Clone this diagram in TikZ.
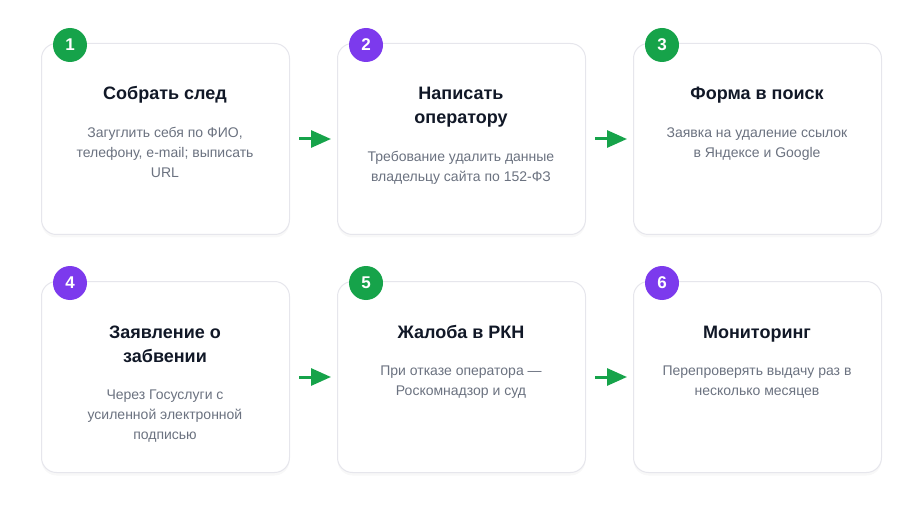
\documentclass[tikz,border=0pt]{standalone}
\usepackage{fontspec}
\setmainfont{Liberation Sans}
\usetikzlibrary{arrows.meta,shadows,positioning}
\definecolor{stepgreen}{HTML}{16A34A}
\definecolor{steppurple}{HTML}{7C3AED}
\definecolor{titlecol}{HTML}{111827}
\definecolor{desccol}{HTML}{6B7280}
\definecolor{cardborder}{HTML}{E6E6EC}
\tikzset{
  card/.style={draw=cardborder, line width=1pt, fill=white, rounded corners=15pt,
    minimum width=248pt, minimum height=191pt, inner sep=0pt, anchor=north west,
    drop shadow={opacity=0.06, shadow xshift=0pt, shadow yshift=-3pt}},
  badge/.style={circle, fill=#1, minimum size=34pt, inner sep=0pt, text=white,
    font=\fontsize{17}{20}\selectfont\bfseries},
  titletext/.style={anchor=north, align=center, inner sep=0pt, text=titlecol,
    font=\fontsize{18}{24}\selectfont\bfseries},
  desctext/.style={anchor=north, align=center, inner sep=0pt, text=desccol,
    font=\fontsize{14}{20}\selectfont},
  flow/.style={-{Triangle[length=20pt,width=17pt]}, line width=3pt, draw=stepgreen,
    shorten <=9pt, shorten >=6pt}
}
\begin{document}
\begin{tikzpicture}[x=1pt,y=-1pt]
\useasboundingbox (0,0) rectangle (922,516);
% cards
\node[card] (c1) at (41,43) {};
\node[card] (c2) at (337,43) {};
\node[card] (c3) at (633,43) {};
\node[card] (c4) at (41,281) {};
\node[card] (c5) at (337,281) {};
\node[card] (c6) at (633,281) {};
% badges
\node[badge=stepgreen]  (b1) at (70,45) {1};
\node[badge=steppurple] (b2) at (366,45) {2};
\node[badge=stepgreen]  (b3) at (662,45) {3};
\node[badge=steppurple] (b4) at (70,283) {4};
\node[badge=stepgreen]  (b5) at (366,283) {5};
\node[badge=steppurple] (b6) at (662,283) {6};
% titles
\node[titletext] (t1) at (165,83) {\strut Собрать след\strut};
\node[titletext] (t2) at (461,83) {\strut Написать\\оператору\strut};
\node[titletext] (t3) at (757,83) {\strut Форма в поиск\strut};
\node[titletext] (t4) at (165,321) {\strut Заявление о\\забвении\strut};
\node[titletext] (t5) at (461,321) {\strut Жалоба в РКН\strut};
\node[titletext] (t6) at (757,321) {\strut Мониторинг\strut};
% descriptions
\node[desctext, below=16pt of t1] (d1) {\strut Загуглить себя по ФИО,\\телефону, e-mail; выписать\\URL\strut};
\node[desctext, below=16pt of t2] (d2) {\strut Требование удалить данные\\владельцу сайта по 152-ФЗ\strut};
\node[desctext, below=16pt of t3] (d3) {\strut Заявка на удаление ссылок\\в Яндексе и Google\strut};
\node[desctext, below=16pt of t4] (d4) {\strut Через Госуслуги с\\усиленной электронной\\подписью\strut};
\node[desctext, below=16pt of t5] (d5) {\strut При отказе оператора —\\Роскомнадзор и суд\strut};
\node[desctext, below=16pt of t6] (d6) {\strut Перепроверять выдачу раз в\\несколько месяцев\strut};
% arrows
\draw[flow] (c1.east) -- (c2.west);
\draw[flow] (c2.east) -- (c3.west);
\draw[flow] (c4.east) -- (c5.west);
\draw[flow] (c5.east) -- (c6.west);
\end{tikzpicture}
\end{document}
